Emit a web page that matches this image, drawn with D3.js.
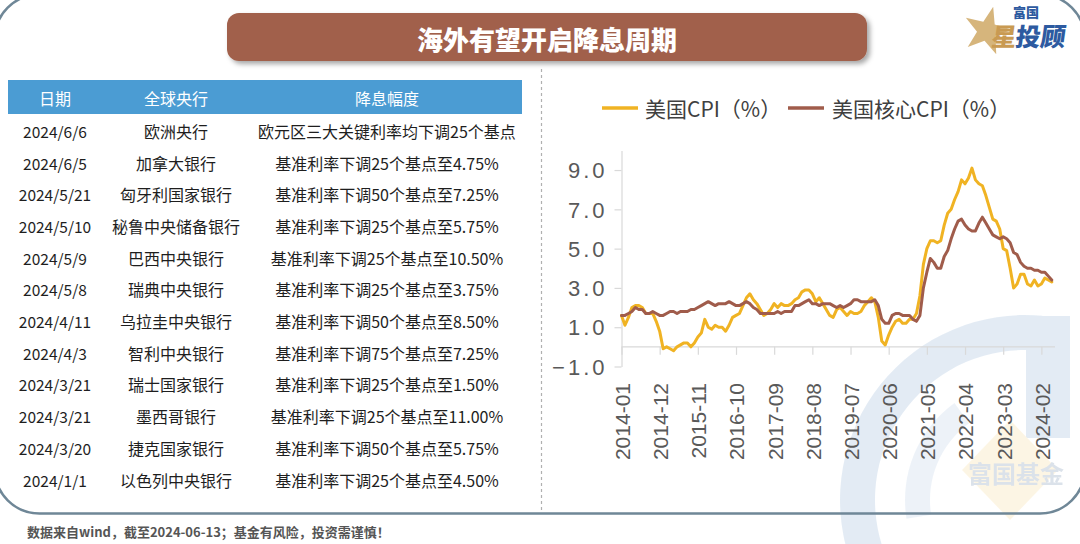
<!DOCTYPE html>
<html><head><meta charset="utf-8">
<script src="https://cdn.jsdelivr.net/npm/d3@7"></script>
<style>
html,body{margin:0;padding:0;background:#fff;}
svg{display:block;}
</style></head>
<body>
<svg id="c" width="1080" height="544"></svg>
<script>
// ---------------- data ----------------
const title = "海外有望开启降息周期";
const tableHeaders = ["日期", "全球央行", "降息幅度"];
const cutDates = ["2024/6/6","2024/6/5","2024/5/21","2024/5/10","2024/5/9","2024/5/8","2024/4/11","2024/4/3","2024/3/21","2024/3/21","2024/3/20","2024/1/1"];
const cutBanks = ["欧洲央行","加拿大银行","匈牙利国家银行","秘鲁中央储备银行","巴西中央银行","瑞典中央银行","乌拉圭中央银行","智利中央银行","瑞士国家银行","墨西哥银行","捷克国家银行","以色列中央银行"];
const cutAmounts = ["欧元区三大关键利率均下调25个基点","基准利率下调25个基点至4.75%","基准利率下调50个基点至7.25%","基准利率下调25个基点至5.75%","基准利率下调25个基点至10.50%","基准利率下调25个基点至3.75%","基准利率下调50个基点至8.50%","基准利率下调75个基点至7.25%","基准利率下调25个基点至1.50%","基准利率下调25个基点至11.00%","基准利率下调50个基点至5.75%","基准利率下调25个基点至4.50%"];

const seriesNames = ["美国CPI（%）", "美国核心CPI（%）"];
// monthly, 2014-01 .. 2024-05
const cpi = [
 1.6,1.1,1.5,2.0,2.1,2.1,2.0,1.7,1.7,1.7,1.3,0.8,
 -0.1,0.0,-0.1,-0.2,0.0,0.1,0.2,0.2,0.0,0.2,0.5,0.7,
 1.4,1.0,0.9,1.1,1.0,1.0,0.8,1.1,1.5,1.6,1.7,2.1,
 2.5,2.7,2.4,2.2,1.9,1.6,1.7,1.9,2.2,2.0,2.2,2.1,
 2.1,2.2,2.4,2.5,2.8,2.9,2.9,2.7,2.3,2.5,2.2,1.9,
 1.6,1.5,1.9,2.0,1.8,1.6,1.8,1.7,1.7,1.8,2.1,2.3,
 2.5,2.3,1.5,0.3,0.1,0.6,1.0,1.3,1.4,1.2,1.2,1.4,
 1.4,1.7,2.6,4.2,5.0,5.4,5.4,5.3,5.4,6.2,6.8,7.0,
 7.5,7.9,8.5,8.3,8.6,9.1,8.5,8.3,8.2,7.7,7.1,6.5,
 6.4,6.0,5.0,4.9,4.0,3.0,3.2,3.7,3.7,3.2,3.1,3.4,
 3.1,3.2,3.5,3.4,3.3];
const coreCpi = [
 1.6,1.6,1.7,1.8,2.0,1.9,1.9,1.7,1.7,1.8,1.7,1.6,
 1.6,1.7,1.8,1.8,1.7,1.8,1.8,1.8,1.9,1.9,2.0,2.1,
 2.2,2.3,2.2,2.1,2.2,2.2,2.2,2.3,2.2,2.1,2.1,2.2,
 2.3,2.2,2.0,1.9,1.7,1.7,1.7,1.7,1.7,1.8,1.7,1.8,
 1.8,1.8,2.1,2.1,2.2,2.3,2.4,2.2,2.2,2.1,2.2,2.2,
 2.2,2.1,2.0,2.1,2.0,2.1,2.2,2.4,2.4,2.3,2.3,2.3,
 2.3,2.4,2.1,1.4,1.2,1.2,1.6,1.7,1.7,1.6,1.6,1.6,
 1.4,1.3,1.6,3.0,3.8,4.5,4.3,4.0,4.0,4.6,4.9,5.5,
 6.0,6.4,6.5,6.2,6.0,5.9,5.9,6.3,6.6,6.3,6.0,5.7,
 5.6,5.5,5.6,5.5,5.3,4.8,4.7,4.3,4.1,4.0,4.0,3.9,
 3.9,3.8,3.8,3.6,3.4];
const xTickLabels = ["2014-01","2014-12","2015-11","2016-10","2017-09","2018-08","2019-07","2020-06","2021-05","2022-04","2023-03","2024-02"];
const yTicks = [-1, 1, 3, 5, 7, 9];
const footer = "数据来自wind，截至2024-06-13；基金有风险，投资需谨慎！";

// month categories
const months = d3.timeMonth.range(new Date(2014,0,1), new Date(2024,5,1)).map(d3.timeFormat("%Y-%m"));

// ---------------- drawing ----------------
const svg = d3.select("#c");
const CJK = "'Noto Sans CJK SC','Noto Sans',sans-serif";
const LAT = "'Liberation Sans',Arial,sans-serif";

const defs = svg.append("defs");
const f = defs.append("filter").attr("id","sh").attr("x","-10%").attr("y","-30%").attr("width","120%").attr("height","170%");
f.append("feDropShadow").attr("dx",3).attr("dy",3).attr("stdDeviation",2.5).attr("flood-color","#000").attr("flood-opacity",0.35);

// watermark (behind everything)
const wm = svg.append("g").attr("opacity",0.5);
const arcG = d3.arc();
wm.append("path").attr("transform","translate(1025,500)")
  .attr("d", arcG({innerRadius:150,outerRadius:185,startAngle:-Math.PI*0.6,endAngle:Math.PI*0.03}))
  .attr("fill","#c9d9ea");
wm.append("path").attr("transform","translate(1025,500)")
  .attr("d", arcG({innerRadius:95,outerRadius:120,startAngle:-Math.PI*0.55,endAngle:-Math.PI*0.2}))
  .attr("fill","#dde7f2");
wm.append("rect").attr("x",1026).attr("y",316).attr("width",44).attr("height",122).attr("fill","#c9d9ea");
wm.append("path").attr("d","M1010,420 L1058,470 L1010,520 L962,470 Z").attr("fill","#fbeccb");
wm.append("text").attr("x",1016).attr("y",476).attr("text-anchor","middle").attr("dominant-baseline","middle")
  .attr("font-family",CJK).attr("font-weight",700).attr("font-size",24).attr("fill","#b9c6d6").text("富国基金");

// outer frame
svg.append("rect").attr("x",-5.5).attr("y",-5.5).attr("width",1090.5).attr("height",519)
  .attr("rx",45).attr("ry",45).attr("fill","none").attr("stroke","#6f8797").attr("stroke-width",2.5);

// dashed divider
svg.append("line").attr("x1",541.5).attr("x2",541.5).attr("y1",69).attr("y2",510)
  .attr("stroke","#b0b0b0").attr("stroke-width",1.2).attr("stroke-dasharray","3,3");

// title
svg.append("rect").attr("x",227).attr("y",13).attr("width",640).attr("height",48).attr("rx",12)
  .attr("fill","#a1614c").attr("filter","url(#sh)");
svg.append("text").attr("x",547).attr("y",38).attr("text-anchor","middle").attr("dominant-baseline","central")
  .attr("font-family",CJK).attr("font-weight",900).attr("font-size",26).attr("fill","#fff").text(title);

// logo
(function(){
  const cx=987, cy=31, R=25, r=10;
  const pts=[];
  for(let i=0;i<10;i++){const a=-Math.PI/2+i*Math.PI/5+0.25; const rr=i%2?r:R; pts.push([cx+rr*Math.cos(a),cy+rr*Math.sin(a)]);}
  svg.append("path").attr("d","M"+pts.map(p=>p.join(",")).join("L")+"Z").attr("fill","#d2ad6e").attr("opacity",0.9);
  svg.append("text").attr("x",1013).attr("y",17).attr("font-family",CJK).attr("font-weight",900).attr("font-size",13)
    .attr("fill","#2d5aa0").text("富国");
  svg.append("text").attr("x",991).attr("y",46).attr("font-family",CJK).attr("font-weight",900).attr("font-size",25)
    .attr("fill","#c99a52").attr("transform","skewX(-8)").attr("dx",6).text("星");
  svg.append("text").attr("x",1015).attr("y",46).attr("font-family",CJK).attr("font-weight",900).attr("font-size",25)
    .attr("fill","#2d5aa0").attr("transform","skewX(-8)").attr("dx",6).text("投顾");
})();

// table
const colX = [55, 176, 387];
svg.append("rect").attr("x",8).attr("y",80).attr("width",514).attr("height",34).attr("fill","#4b9cd3");
svg.append("g").selectAll("text").data(tableHeaders).join("text")
  .attr("x",(d,i)=>colX[i]).attr("y",97.5).attr("text-anchor","middle").attr("dominant-baseline","central")
  .attr("font-family",CJK).attr("font-size",16).attr("fill","#fff").text(d=>d);
const rowY = d3.scaleLinear().domain([0,11]).range([131,479.5]);
const rows = cutDates.map((d,i)=>[d, cutBanks[i], cutAmounts[i]]);
const rg = svg.append("g").selectAll("g").data(rows).join("g").attr("transform",(d,i)=>`translate(0,${rowY(i)})`);
rg.selectAll("text").data(d=>d).join("text")
  .attr("x",(d,i)=>colX[i]).attr("y",0).attr("text-anchor","middle").attr("dominant-baseline","central")
  .attr("font-family",CJK).attr("font-size",(d,i)=>i===0?15.5:16).attr("fill","#1e1e1e").text(d=>d);

// footer
svg.append("text").attr("x",27).attr("y",531).attr("dominant-baseline","central")
  .attr("font-family",CJK).attr("font-weight",700).attr("font-size",13).attr("fill","#555").text(footer);

// chart
const x = d3.scalePoint().domain(months).range([621.5, 621.5+124*3.47]);
const y = d3.scaleLinear().domain([-1,10]).range([366.5, 150.4]);

// y axis
const yAxis = svg.append("g").attr("transform","translate(621.5,0)")
  .call(d3.axisLeft(y).tickValues(yTicks).tickSize(7).tickSizeOuter(0).tickFormat(d3.format(".1f")));
yAxis.select(".domain").attr("stroke","#d9d9d9").attr("stroke-width",1.2);
yAxis.selectAll(".tick line").attr("stroke","#d9d9d9").attr("stroke-width",1.2);
yAxis.selectAll(".tick text").attr("font-family",LAT).attr("font-size",22).attr("fill","#595959")
  .attr("letter-spacing","3px").attr("x",-14).attr("dy","0.35em");

// x axis at zero
const xAxis = svg.append("g").attr("transform",`translate(0,${y(0)})`)
  .call(d3.axisBottom(x).tickValues(xTickLabels).tickSize(8).tickSizeOuter(0).tickFormat(""));
xAxis.select(".domain").attr("d",`M621.5,0H1055`).attr("stroke","#d9d9d9").attr("stroke-width",1.2);
xAxis.selectAll(".tick line").attr("stroke","#d9d9d9").attr("stroke-width",1.2);
svg.append("g").selectAll("text").data(xTickLabels).join("text")
  .attr("transform",d=>`translate(${x(d)+1},383) rotate(-90)`)
  .attr("text-anchor","end").attr("dy","0.35em")
  .attr("font-family",LAT).attr("font-size",21).attr("fill","#595959").text(d=>d);

// lines
const colors = ["#f0b323", "#a05c4b"];
const line = d3.line().x((d,i)=>x(months[i])).y(d=>y(d));
[cpi, coreCpi].forEach((s,k)=>{
  svg.append("path").datum(s).attr("d",line).attr("fill","none").attr("stroke",colors[k])
    .attr("stroke-width",3).attr("stroke-linejoin","round").attr("stroke-linecap","round");
});

// legend
const lg = [{x:602, tx:645, name:seriesNames[0], c:colors[0]},{x:788, tx:832, name:seriesNames[1], c:colors[1]}];
lg.forEach(l=>{
  svg.append("line").attr("x1",l.x).attr("x2",l.x+36).attr("y1",108).attr("y2",108).attr("stroke",l.c).attr("stroke-width",3.5);
  svg.append("text").attr("x",l.tx).attr("y",108).attr("dominant-baseline","central")
    .attr("font-family",CJK).attr("font-size",21).attr("fill","#404040").text(l.name);
});
</script>
</body></html>
